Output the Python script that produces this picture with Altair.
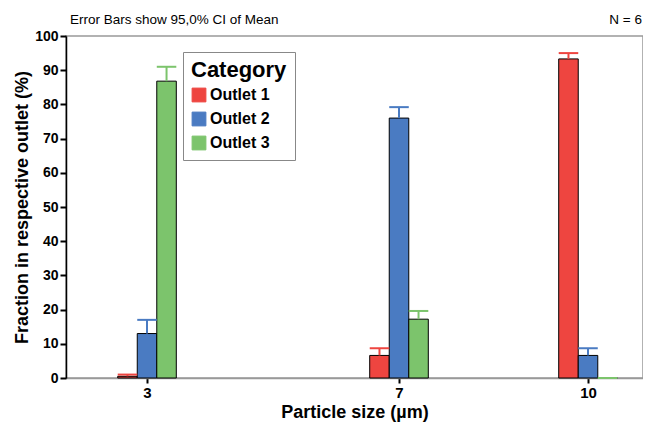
import altair as alt
import pandas as pd

# ---- data ----
sizes = [3, 7, 10]
outlets = ["Outlet 1", "Outlet 2", "Outlet 3"]
mean_outlet1 = [0.5, 6.6, 93.3]
upper_outlet1 = [1.0, 8.7, 95.0]
mean_outlet2 = [13.0, 76.0, 6.6]
upper_outlet2 = [17.0, 79.2, 8.7]
mean_outlet3 = [86.8, 17.2, 0.0]
upper_outlet3 = [91.0, 19.6, 0.0]
y_ticks = list(range(0, 101, 10))
colors = ["#EE4540", "#4A7BC2", "#7CC46C"]

means = [mean_outlet1, mean_outlet2, mean_outlet3]
uppers = [upper_outlet1, upper_outlet2, upper_outlet3]

BW = 0.31  # bar width in x data units
rows = []
for k, name in enumerate(outlets):
    for i, s in enumerate(sizes):
        c = s + (k - 1) * BW
        rows.append({"size": s, "outlet": name, "value": means[k][i],
                     "upper": uppers[k][i], "xc": c,
                     "x0": c - BW / 2, "x1": c + BW / 2})
df = pd.DataFrame(rows)

FONT = "Liberation Sans"
W, H = 577, 342
xscale = alt.Scale(domain=[1.714, 10.873], nice=False, zero=False)
yscale = alt.Scale(domain=[0, 100], nice=False)

x_axis = alt.Axis(values=sizes, title="Particle size (µm)", grid=False,
                  format="d", labelOverlap=False,
                  labelFont=FONT, labelFontSize=15, labelFontWeight="bold",
                  labelColor="black", labelPadding=2,
                  tickColor="black", tickWidth=2, tickSize=5,
                  domainColor="#999999", domainWidth=1.5,
                  titleFont=FONT, titleFontSize=18, titleFontWeight="bold",
                  titleColor="black", titlePadding=3)
y_axis = alt.Axis(values=y_ticks, tickCount=11, grid=False, format="d",
                  labelOverlap=False,
                  title="Fraction in respective outlet (%)",
                  labelFont=FONT, labelFontSize=14, labelFontWeight="bold",
                  labelColor="black", labelPadding=2,
                  tickColor="black", tickWidth=2, tickSize=6,
                  domainColor="black", domainWidth=1.5,
                  titleFont=FONT, titleFontSize=18, titleFontWeight="bold",
                  titleColor="black", titlePadding=3)

base = alt.Chart(df)

bars = base.mark_bar(stroke="black", strokeWidth=1).encode(
    x=alt.X("x0:Q", scale=xscale, axis=x_axis),
    x2="x1:Q",
    y=alt.Y("value:Q", scale=yscale, axis=y_axis),
    y2=alt.datum(0),
    fill=alt.Fill("outlet:N", scale=alt.Scale(domain=outlets, range=colors),
                  legend=alt.Legend(title="Category", orient="none",
                                    legendX=117, legendY=16,
                                    symbolType="square", symbolSize=190,
                                    symbolStrokeColor="black", symbolStrokeWidth=1,
                                    symbolOpacity=1,
                                    titleFont=FONT, titleFontSize=22,
                                    titleFontWeight="bold", titleColor="black",
                                    labelFont=FONT, labelFontSize=16,
                                    labelFontWeight="bold", labelColor="black",
                                    labelOffset=3,
                                    strokeColor="#888888", fillColor="white",
                                    padding=8, rowPadding=6, titlePadding=5)),
)

stroke_enc = alt.Stroke("outlet:N", scale=alt.Scale(domain=outlets, range=colors),
                        legend=None)

stems = base.mark_rule(strokeWidth=2).encode(
    x=alt.X("xc:Q", scale=xscale, axis=x_axis),
    y=alt.Y("value:Q", scale=yscale, axis=y_axis),
    y2="upper:Q", stroke=stroke_enc)

caps = base.mark_rule(strokeWidth=2).encode(
    x=alt.X("x0:Q", scale=xscale, axis=x_axis),
    x2="x1:Q",
    y=alt.Y("upper:Q", scale=yscale, axis=y_axis),
    stroke=stroke_enc)

note_left = alt.Chart(pd.DataFrame({"t": ["Error Bars show 95,0% CI of Mean"]})).mark_text(
    align="left", baseline="alphabetic", font=FONT,
    fontSize=13.5, color="black").encode(
    x=alt.value(4), y=alt.value(-12), text="t:N")

note_right = alt.Chart(pd.DataFrame({"t": ["N = 6"]})).mark_text(
    align="right", baseline="alphabetic", font=FONT,
    fontSize=13.5, color="black").encode(
    x=alt.value(W - 1), y=alt.value(-12), text="t:N")

chart = alt.layer(bars, stems, caps, note_left, note_right).properties(
    width=W, height=H,
    autosize=alt.AutoSizeParams(type="none"),
    padding={"left": 58, "top": 28, "right": 0, "bottom": 55},
).configure_view(stroke="#999999", strokeWidth=1.5)

chart.save("out.html", embed_options={"renderer": "svg", "actions": False})
